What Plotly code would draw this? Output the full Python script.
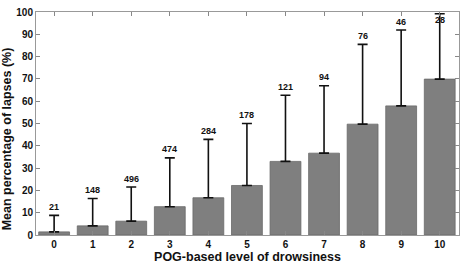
import plotly.graph_objects as go

levels = [0, 1, 2, 3, 4, 5, 6, 7, 8, 9, 10]
mean_lapses = [1.4, 4.1, 6.2, 12.7, 16.7, 22.2, 33.0, 36.7, 49.7, 57.9, 69.9]
upper_err = [8.8, 16.4, 21.5, 34.6, 42.9, 50.0, 62.7, 66.9, 85.5, 91.9, 99.2]
counts = ["21", "148", "496", "474", "284", "178", "121", "94", "76", "46", "28"]

err_plus = [u - m for u, m in zip(upper_err, mean_lapses)]

fig = go.Figure()
fig.add_trace(go.Bar(
    x=levels, y=mean_lapses, width=0.8,
    marker=dict(color="#7f7f7f", line=dict(color="#6a6a6a", width=0.8)),
    error_y=dict(type="data", symmetric=False, array=err_plus,
                 arrayminus=[0] * len(levels),
                 color="#111111", thickness=1.6, width=5),
))

for x, u, c in zip(levels, upper_err, counts):
    fig.add_annotation(x=x, y=min(u + 3.8, 96.3), text="<b>" + c + "</b>", showarrow=False,
                       font=dict(size=9, color="#111", family="Liberation Sans, Arial"))

fig.add_annotation(xref="paper", yref="paper", x=-0.068, y=0.43, xanchor="center", yanchor="middle",
                   textangle=-90, showarrow=False,
                   text="<b>Mean percentage of lapses (%)</b>",
                   font=dict(size=12.5, color="#111", family="Liberation Sans, Arial"))

fig.update_layout(
    width=466, height=267,
    margin=dict(l=36, r=7, t=6, b=27),
    plot_bgcolor="white", paper_bgcolor="white",
    showlegend=False,
    font=dict(family="Liberation Sans, Arial", color="#111"),
    xaxis=dict(range=[-0.47, 10.5], tickmode="array", tickvals=levels,
               ticktext=["<b>%d</b>" % v for v in levels],
               ticks="inside", ticklen=4, tickcolor="#888",
               showline=True, linecolor="#999", linewidth=1, mirror="ticks",
               showgrid=False, zeroline=False, tickfont=dict(size=10),
               title=dict(text="<b>POG-based level of drowsiness</b>", font=dict(size=12.5), standoff=2)),
    yaxis=dict(range=[0, 100], tickmode="array", tickvals=list(range(0, 101, 10)),
               ticktext=["<b>%d</b>" % v for v in range(0, 101, 10)],
               ticks="inside", ticklen=4, tickcolor="#888",
               showline=True, linecolor="#999", linewidth=1, mirror="ticks",
               showgrid=False, zeroline=False, tickfont=dict(size=10)),
)

fig.write_html("out.html")
